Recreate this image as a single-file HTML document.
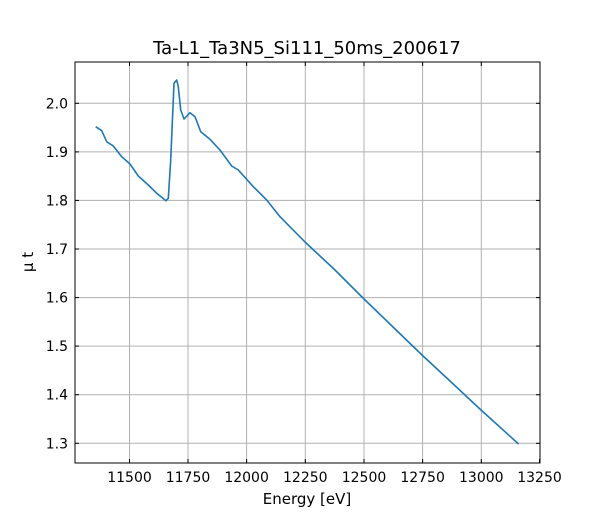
<!DOCTYPE html>
<html><head><meta charset="utf-8"><style>body{margin:0;background:#fff}svg{display:block}text{font-family:"DejaVu Sans","Liberation Sans",sans-serif;fill:#000}</style></head><body>
<svg width="600" height="520" xmlns="http://www.w3.org/2000/svg">
<g stroke="#b0b0b0" stroke-width="1">
<line x1="129.5" y1="62" x2="129.5" y2="463"/><line x1="188" y1="62" x2="188" y2="463"/><line x1="246.6" y1="62" x2="246.6" y2="463"/><line x1="305.3" y1="62" x2="305.3" y2="463"/><line x1="364" y1="62" x2="364" y2="463"/><line x1="422.6" y1="62" x2="422.6" y2="463"/><line x1="481.3" y1="62" x2="481.3" y2="463"/>
<line x1="75" y1="103.3" x2="540" y2="103.3"/><line x1="75" y1="151.9" x2="540" y2="151.9"/><line x1="75" y1="200.4" x2="540" y2="200.4"/><line x1="75" y1="249" x2="540" y2="249"/><line x1="75" y1="297.6" x2="540" y2="297.6"/><line x1="75" y1="346.1" x2="540" y2="346.1"/><line x1="75" y1="394.7" x2="540" y2="394.7"/><line x1="75" y1="443.3" x2="540" y2="443.3"/>
</g>
<polyline fill="none" stroke="#1f77b4" stroke-width="1.6" stroke-linejoin="round" points="95.7,126.7 101.7,130.7 106.7,141.7 113.3,146 121.7,156.7 130,164 138.3,176 148.3,185 156.7,193.3 166,200.7 168.3,198.3 170.7,160 174,83.3 176.7,80 178.3,86.7 180.7,110 184,119 190,112.7 195,116.7 200.7,131.7 210,139.3 220,150 231.7,166 238.3,170 253.3,186.7 266.7,200 280,216.7 305,242 335,270 364,299 393,327 422,355 450,381 481,410 518.6,444"/>
<rect x="75" y="62" width="465" height="401" fill="none" stroke="#000" stroke-width="1"/>
<g stroke="#000" stroke-width="1">
<line x1="129.5" y1="463" x2="129.5" y2="459"/><line x1="188" y1="463" x2="188" y2="459"/><line x1="246.6" y1="463" x2="246.6" y2="459"/><line x1="305.3" y1="463" x2="305.3" y2="459"/><line x1="364" y1="463" x2="364" y2="459"/><line x1="422.6" y1="463" x2="422.6" y2="459"/><line x1="481.3" y1="463" x2="481.3" y2="459"/><line x1="539.5" y1="463" x2="539.5" y2="459"/>
<line x1="129.5" y1="62" x2="129.5" y2="66"/><line x1="188" y1="62" x2="188" y2="66"/><line x1="246.6" y1="62" x2="246.6" y2="66"/><line x1="305.3" y1="62" x2="305.3" y2="66"/><line x1="364" y1="62" x2="364" y2="66"/><line x1="422.6" y1="62" x2="422.6" y2="66"/><line x1="481.3" y1="62" x2="481.3" y2="66"/>
<line x1="79" y1="103.3" x2="75" y2="103.3"/><line x1="79" y1="151.9" x2="75" y2="151.9"/><line x1="79" y1="200.4" x2="75" y2="200.4"/><line x1="79" y1="249" x2="75" y2="249"/><line x1="79" y1="297.6" x2="75" y2="297.6"/><line x1="79" y1="346.1" x2="75" y2="346.1"/><line x1="79" y1="394.7" x2="75" y2="394.7"/><line x1="79" y1="443.3" x2="75" y2="443.3"/>
<line x1="536" y1="103.3" x2="540" y2="103.3"/><line x1="536" y1="151.9" x2="540" y2="151.9"/><line x1="536" y1="200.4" x2="540" y2="200.4"/><line x1="536" y1="249" x2="540" y2="249"/><line x1="536" y1="297.6" x2="540" y2="297.6"/><line x1="536" y1="346.1" x2="540" y2="346.1"/><line x1="536" y1="394.7" x2="540" y2="394.7"/><line x1="536" y1="443.3" x2="540" y2="443.3"/>
</g>
<g font-size="14" text-anchor="middle">
<text x="129.5" y="482">11500</text><text x="188" y="482">11750</text><text x="246.6" y="482">12000</text><text x="305.3" y="482">12250</text><text x="364" y="482">12500</text><text x="422.6" y="482">12750</text><text x="481.3" y="482">13000</text><text x="539.5" y="482">13250</text>
</g>
<g font-size="14" text-anchor="end">
<text x="68" y="108.3">2.0</text><text x="68" y="156.9">1.9</text><text x="68" y="205.4">1.8</text><text x="68" y="254">1.7</text><text x="68" y="302.6">1.6</text><text x="68" y="351.1">1.5</text><text x="68" y="399.7">1.4</text><text x="68" y="448.3">1.3</text>
</g>
<text x="307" y="504" font-size="15" text-anchor="middle">Energy [eV]</text>
<text transform="translate(33,262) rotate(-90)" font-size="15" text-anchor="middle">μ t</text>
<text x="307" y="54" font-size="18" text-anchor="middle">Ta-L1_Ta3N5_Si111_50ms_200617</text>
</svg>
</body></html>
